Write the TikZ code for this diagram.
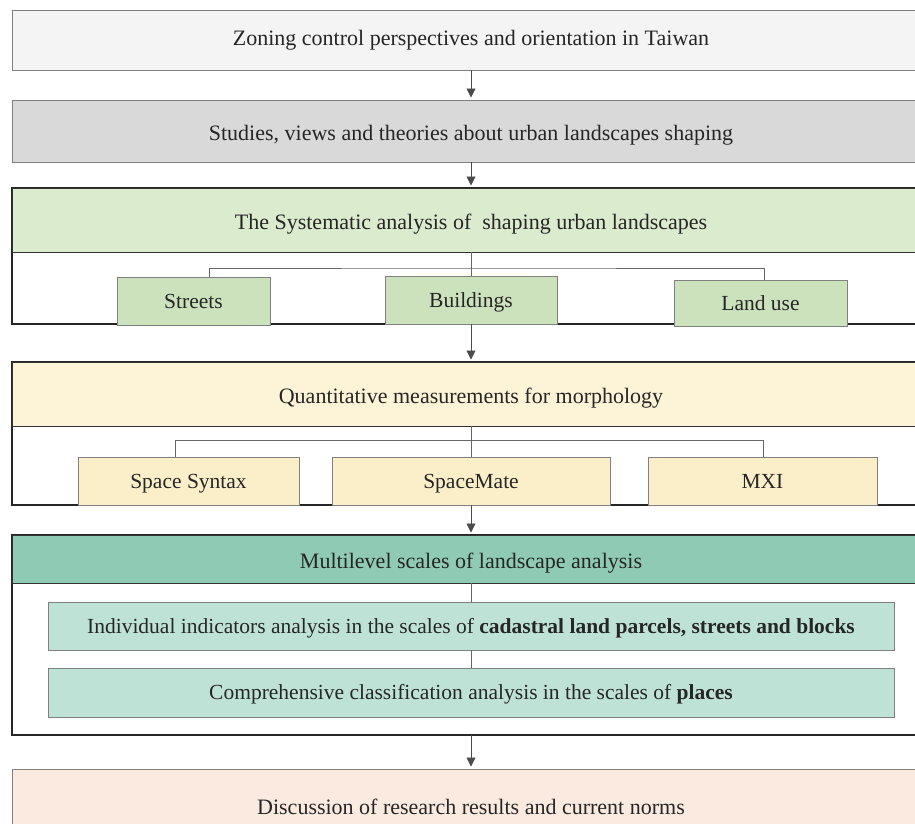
\documentclass[tikz,border=0pt]{standalone}
\usepackage{fontspec}
\setmainfont{Liberation Serif}
\usepackage{xcolor}
\usetikzlibrary{arrows.meta}
\definecolor{zoningc}{HTML}{F4F4F4}
\definecolor{studiesc}{HTML}{D9D9D9}
\definecolor{greenhc}{HTML}{DBEBCE}
\definecolor{greensc}{HTML}{CCE2BC}
\definecolor{yellowhc}{HTML}{FDF3D6}
\definecolor{yellowsc}{HTML}{FBEFC9}
\definecolor{tealhc}{HTML}{8FCBB4}
\definecolor{tealsc}{HTML}{BEE3D6}
\definecolor{peachc}{HTML}{FBEAE0}
\tikzset{
  basebox/.style={rectangle, inner sep=0pt, outer sep=0pt, align=center,
    font=\fontsize{22}{26}\selectfont, text=black!85},
  framebox/.style={basebox, anchor=north west, minimum width=918pt,
    draw=black!85, line width=1.6pt},
  headbox/.style={basebox, anchor=north west, minimum width=918pt,
    draw=black!50, line width=1pt},
  lowtext/.style={text height=22pt, text depth=3pt},
  subbox/.style={basebox, draw=black!50, line width=1pt, minimum height=48pt,
    font=\fontsize{21.5}{26}\selectfont, text height=17pt, text depth=3pt},
  link/.style={draw=black!60, line width=0.9pt},
  arrowedge/.style={-{Triangle[length=9pt,width=9pt]}, draw=black!70,
    line width=0.9pt, shorten >=2.5pt},
}
\begin{document}
\begin{tikzpicture}[x=1pt,y=-1pt]
  \useasboundingbox (0,0) rectangle (915,823);
  \clip (0,0) rectangle (915,823);
  \node[framebox, minimum height=136pt] (frameA) at (12,188) {};
  \node[framebox, minimum height=143pt] (frameB) at (12,362) {};
  \node[framebox, minimum height=200pt] (frameC) at (12,535) {};
  \node[headbox, fill=zoningc, minimum height=60pt] (zoning) at (12,10)
    {Zoning control perspectives and orientation in Taiwan};
  \node[headbox, lowtext, fill=studiesc, minimum height=62pt] (studies) at (12,100)
    {Studies, views and theories about urban landscapes shaping};
  \node[headbox, lowtext, fill=greenhc, draw=black!80, minimum height=64pt] (syst) at (12,188)
    {The Systematic analysis of~ shaping urban landscapes};
  \node[headbox, lowtext, fill=yellowhc, draw=black!80, minimum height=64pt] (quant) at (12,362)
    {Quantitative measurements for morphology};
  \node[headbox, lowtext, fill=tealhc, draw=black!80, minimum height=48pt] (multi) at (12,535)
    {Multilevel scales of landscape analysis};
  \node[headbox, fill=peachc, minimum height=76pt] (disc) at (12,769)
    {Discussion of research results and current norms};
  \node[subbox, fill=greensc, minimum width=153pt] (streets) at (193.5,301) {Streets};
  \node[subbox, fill=greensc, minimum width=172pt] (buildings) at (471,300) {Buildings};
  \node[subbox, fill=greensc, minimum width=173pt, minimum height=46pt] (landuse) at (760.5,303) {Land use};
  \node[subbox, fill=yellowsc, minimum width=221pt] (spacesyntax) at (188.5,481) {Space Syntax};
  \node[subbox, fill=yellowsc, minimum width=278pt] (spacemate) at (471,481) {SpaceMate};
  \node[subbox, fill=yellowsc, minimum width=229pt] (mxi) at (762.5,481) {MXI};
  \node[subbox, fill=tealsc, minimum width=846pt] (indiv) at (471,626)
    {Individual indicators analysis in the scales of \textbf{cadastral land parcels, streets and blocks}};
  \node[subbox, fill=tealsc, minimum width=846pt, minimum height=49pt] (compr) at (471,692.5)
    {Comprehensive classification analysis in the scales of \textbf{places}};
  \coordinate (jA) at (471,268);
  \coordinate (jB) at (471,440);
  \draw[arrowedge] (zoning.south) -- (studies.north);
  \draw[arrowedge] (studies.south) -- (syst.north);
  \draw[link] (syst.south) -- (jA);
  \draw[link] ([xshift=16pt]streets.north) |- (jA) -| ([xshift=4pt]landuse.north);
  \draw[link] (jA) -- (buildings.north);
  \draw[arrowedge] (frameA.south) -- (quant.north);
  \draw[link] (quant.south) -- (jB);
  \draw[link] ([xshift=-13pt]spacesyntax.north) |- (jB) -| ([xshift=1pt]mxi.north);
  \draw[link] (jB) -- (spacemate.north);
  \draw[arrowedge] (frameB.south) -- (multi.north);
  \draw[link] (multi.south) -- (indiv.north);
  \draw[link] (indiv.south) -- (compr.north);
  \draw[arrowedge] (frameC.south) -- (disc.north);
\end{tikzpicture}
\end{document}
